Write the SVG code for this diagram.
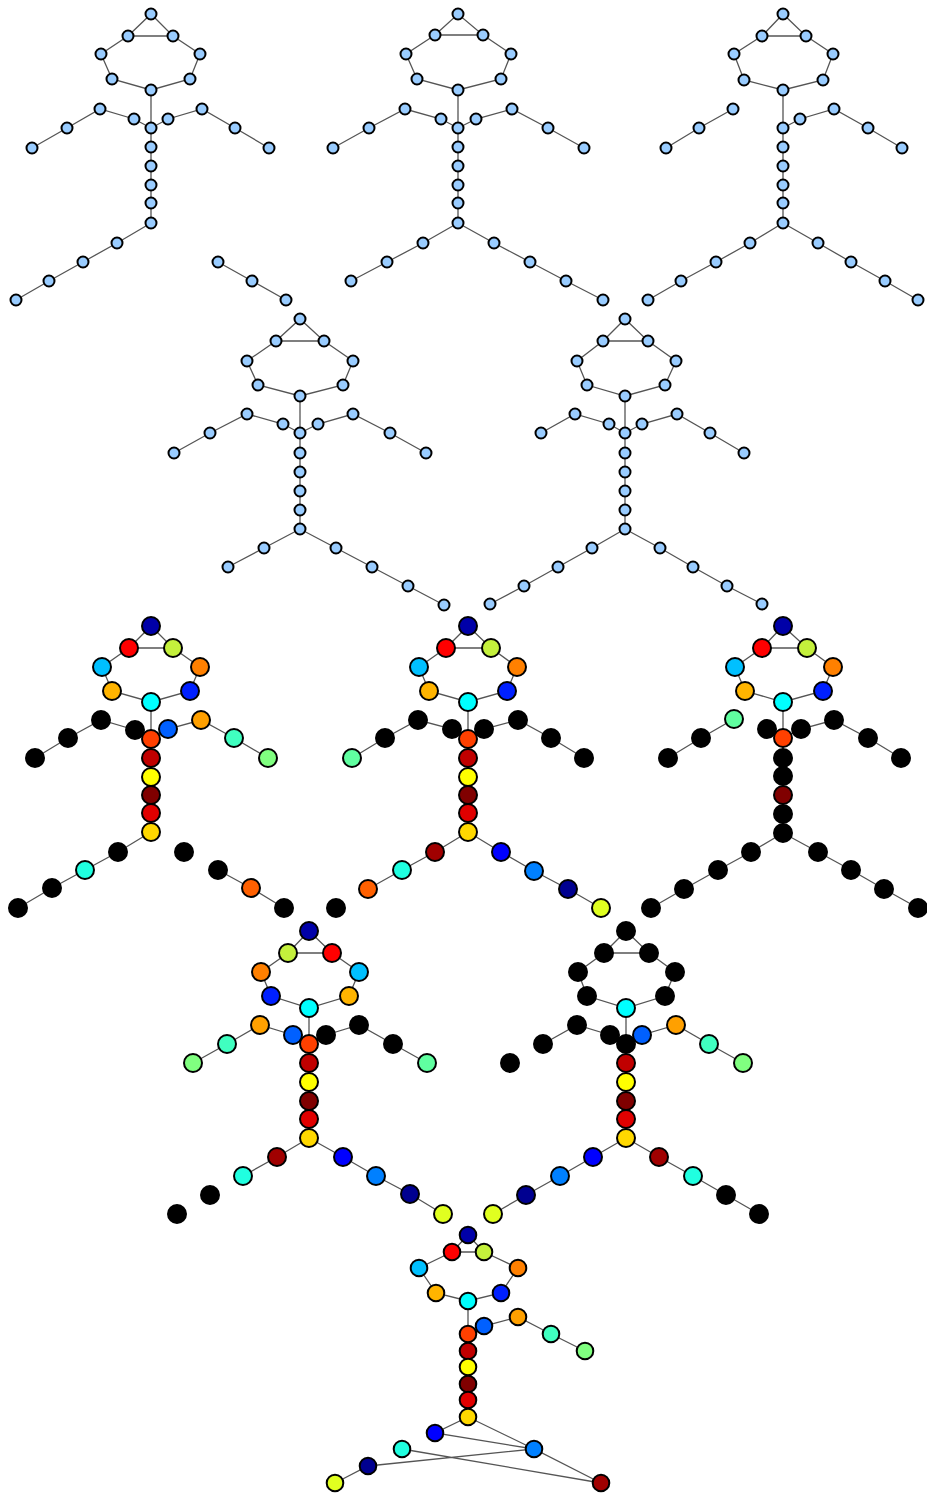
<svg xmlns="http://www.w3.org/2000/svg" width="927" height="1493" viewBox="0 0 927 1493">
<style>
.e{fill:none;stroke:#555;stroke-width:1.3}
circle{stroke:#000;stroke-width:2}
.bl{fill:#99ccff}.k{fill:#000}.nv{fill:#0000a8}.rd{fill:#ff0000}.yg{fill:#c4f03c}.ds{fill:#00c0ff}.or{fill:#ff8000}.gr{fill:#ffb400}.b2{fill:#0020ff}.cy{fill:#00ffff}.og{fill:#ff4000}.db{fill:#0060ff}.o2{fill:#ffa000}.aq{fill:#40ffc0}.lg{fill:#80ff80}.dr{fill:#c00000}.ye{fill:#ffff00}.mr{fill:#800000}.r2{fill:#e00000}.gd{fill:#ffd800}.tq{fill:#20ffe0}.o3{fill:#ff6000}.ma{fill:#60ffa0}.m2{fill:#a00000}.bu{fill:#0000ff}.d2{fill:#0080ff}.n2{fill:#000090}.y2{fill:#e0ff20}
</style>
<rect width="927" height="1493" fill="#fff"/>
<g id="connectors">
<path class="e" d="M128,36L151,14L173,36L128,36M128,36L101,54L112,79L151,90L190,79L200,54L173,36M151,90L151,128M151,128L134,119L100,109L67,128L32,148M151,128L168,119L202,109L235,128L269,148M151,128L151,223M151,223L117,243L83,262L49,281L16,300M218,262L252,281L286,300"/>
<path class="e" d="M435,35L458,14L483,35L435,35M435,35L406,54L417,79L458,90L501,79L511,54L483,35M458,90L458,128M458,128L441,119L405,109L369,128L333,148M458,128L476,119L512,109L548,128L584,148M458,128L458,223M458,223L423,243L387,262L351,281M458,223L494,243L530,262L566,281L603,300"/>
<path class="e" d="M762,36L783,14L806,36L762,36M762,36L734,54L744,80L783,90L823,80L833,54L806,36M783,90L783,128M733,109L699,128L666,148M783,128L800,119L834,109L868,128L902,148M783,128L783,223M783,223L750,243L716,262L681,281L648,300M783,223L818,243L851,262L885,281L918,300"/>
<path class="e" d="M276,341L300,319L324,341L276,341M276,341L247,361L258,385L300,396L343,385L353,361L324,341M300,396L300,433M300,433L283,424L247,414L210,433L174,453M300,433L318,424L353,414L390,433L426,453M300,433L300,529M300,529L264,548L228,567M300,529L336,548L372,567L408,586L444,605"/>
<path class="e" d="M603,341L625,319L648,341L603,341M603,341L577,361L587,385L625,396L665,385L676,361L648,341M625,396L625,433M625,433L609,424L575,414L541,433M625,433L642,424L677,414L710,433L744,453M625,433L625,529M625,529L592,548L558,567L524,586L490,604M625,529L660,548L693,567L727,586L762,604"/>
<path class="e" d="M129,648L151,626L173,648L129,648M129,648L102,667L112,691L151,702L190,691L200,667L173,648M151,702L151,739M151,739L135,730L101,720L68,738L35,758M151,739L168,729L201,720L234,738L268,758M151,739L151,832M151,832L118,852L85,870L52,888L18,908M218,870L251,888L284,908"/>
<path class="e" d="M446,648L468,626L491,648L446,648M446,648L419,667L429,691L468,702L507,691L517,667L491,648M468,702L468,739M468,739L452,729L418,720L385,738L352,758M468,739L484,729L518,720L551,738L584,758M468,739L468,832M468,832L435,852L402,870L368,889M468,832L501,852L534,871L568,889L601,908"/>
<path class="e" d="M762,648L783,626L807,648L762,648M762,648L735,667L745,691L783,702L823,691L833,667L807,648M783,702L783,738M783,738L767,729M734,719L701,738L668,758M783,738L801,729L834,720L868,738L901,758M783,738L783,833M783,833L751,852L718,870L684,889L651,908M783,833L818,852L851,870L884,889L918,908"/>
<path class="e" d="M288,953L309,931L332,953L288,953M288,953L261,972L271,996L309,1008L349,996L359,972L332,953M309,1008L309,1044M309,1044L293,1035L260,1025L227,1044L193,1063M309,1044L326,1035L359,1025L393,1044L427,1063M309,1044L309,1138M309,1138L277,1157L243,1176M309,1138L343,1157L376,1176L410,1194L443,1214"/>
<path class="e" d="M604,953L626,931L649,953L604,953M604,953L578,972L587,996L626,1008L665,996L675,972L649,953M626,1008L626,1044M626,1044L610,1035L577,1025L543,1044M626,1044L642,1035L676,1025L709,1044L743,1063M626,1044L626,1138M626,1138L593,1157L560,1176L526,1195L493,1214M626,1138L659,1157L693,1176L726,1195L759,1214"/>
<path class="e" d="M452,1252L468,1235L484,1252L452,1252M452,1252L419,1268L436,1293L468,1301L501,1293L518,1268L484,1252M468,1301L468,1334M468,1334L484,1326L518,1317L551,1334L585,1351M468,1334L468,1417M468,1417L435,1433L534,1449L601,1483L402,1449M468,1417L534,1449M534,1449L368,1466L335,1483"/>
</g>
<g id="fig1">
<g id="f1n1"><circle class="bl" cx="151" cy="14" r="5.5"/></g>
<g id="f1n2"><circle class="bl" cx="128" cy="36" r="5.5"/></g>
<g id="f1n3"><circle class="bl" cx="173" cy="36" r="5.5"/></g>
<g id="f1n4"><circle class="bl" cx="101" cy="54" r="5.5"/></g>
<g id="f1n5"><circle class="bl" cx="200" cy="54" r="5.5"/></g>
<g id="f1n6"><circle class="bl" cx="112" cy="79" r="5.5"/></g>
<g id="f1n7"><circle class="bl" cx="190" cy="79" r="5.5"/></g>
<g id="f1n8"><circle class="bl" cx="151" cy="90" r="5.5"/></g>
<g id="f1n9"><circle class="bl" cx="134" cy="119" r="5.5"/></g>
<g id="f1n10"><circle class="bl" cx="168" cy="119" r="5.5"/></g>
<g id="f1n11"><circle class="bl" cx="100" cy="109" r="5.5"/></g>
<g id="f1n12"><circle class="bl" cx="67" cy="128" r="5.5"/></g>
<g id="f1n13"><circle class="bl" cx="32" cy="148" r="5.5"/></g>
<g id="f1n14"><circle class="bl" cx="202" cy="109" r="5.5"/></g>
<g id="f1n15"><circle class="bl" cx="235" cy="128" r="5.5"/></g>
<g id="f1n16"><circle class="bl" cx="269" cy="148" r="5.5"/></g>
<g id="f1n17"><circle class="bl" cx="151" cy="128" r="5.5"/></g>
<g id="f1n18"><circle class="bl" cx="151" cy="147" r="5.5"/></g>
<g id="f1n19"><circle class="bl" cx="151" cy="166" r="5.5"/></g>
<g id="f1n20"><circle class="bl" cx="151" cy="185" r="5.5"/></g>
<g id="f1n21"><circle class="bl" cx="151" cy="203" r="5.5"/></g>
<g id="f1n22"><circle class="bl" cx="151" cy="223" r="5.5"/></g>
<g id="f1n23"><circle class="bl" cx="117" cy="243" r="5.5"/></g>
<g id="f1n24"><circle class="bl" cx="83" cy="262" r="5.5"/></g>
<g id="f1n25"><circle class="bl" cx="49" cy="281" r="5.5"/></g>
<g id="f1n26"><circle class="bl" cx="16" cy="300" r="5.5"/></g>
<g id="f1n27"><circle class="bl" cx="218" cy="262" r="5.5"/></g>
<g id="f1n28"><circle class="bl" cx="252" cy="281" r="5.5"/></g>
<g id="f1n29"><circle class="bl" cx="286" cy="300" r="5.5"/></g>
</g>
<g id="fig2">
<g id="f2n1"><circle class="bl" cx="458" cy="14" r="5.5"/></g>
<g id="f2n2"><circle class="bl" cx="435" cy="35" r="5.5"/></g>
<g id="f2n3"><circle class="bl" cx="483" cy="35" r="5.5"/></g>
<g id="f2n4"><circle class="bl" cx="406" cy="54" r="5.5"/></g>
<g id="f2n5"><circle class="bl" cx="511" cy="54" r="5.5"/></g>
<g id="f2n6"><circle class="bl" cx="417" cy="79" r="5.5"/></g>
<g id="f2n7"><circle class="bl" cx="501" cy="79" r="5.5"/></g>
<g id="f2n8"><circle class="bl" cx="458" cy="90" r="5.5"/></g>
<g id="f2n9"><circle class="bl" cx="441" cy="119" r="5.5"/></g>
<g id="f2n10"><circle class="bl" cx="476" cy="119" r="5.5"/></g>
<g id="f2n11"><circle class="bl" cx="405" cy="109" r="5.5"/></g>
<g id="f2n12"><circle class="bl" cx="369" cy="128" r="5.5"/></g>
<g id="f2n13"><circle class="bl" cx="333" cy="148" r="5.5"/></g>
<g id="f2n14"><circle class="bl" cx="512" cy="109" r="5.5"/></g>
<g id="f2n15"><circle class="bl" cx="548" cy="128" r="5.5"/></g>
<g id="f2n16"><circle class="bl" cx="584" cy="148" r="5.5"/></g>
<g id="f2n17"><circle class="bl" cx="458" cy="128" r="5.5"/></g>
<g id="f2n18"><circle class="bl" cx="458" cy="147" r="5.5"/></g>
<g id="f2n19"><circle class="bl" cx="458" cy="166" r="5.5"/></g>
<g id="f2n20"><circle class="bl" cx="458" cy="185" r="5.5"/></g>
<g id="f2n21"><circle class="bl" cx="458" cy="203" r="5.5"/></g>
<g id="f2n22"><circle class="bl" cx="458" cy="223" r="5.5"/></g>
<g id="f2n23"><circle class="bl" cx="423" cy="243" r="5.5"/></g>
<g id="f2n24"><circle class="bl" cx="387" cy="262" r="5.5"/></g>
<g id="f2n25"><circle class="bl" cx="351" cy="281" r="5.5"/></g>
<g id="f2n26"><circle class="bl" cx="494" cy="243" r="5.5"/></g>
<g id="f2n27"><circle class="bl" cx="530" cy="262" r="5.5"/></g>
<g id="f2n28"><circle class="bl" cx="566" cy="281" r="5.5"/></g>
<g id="f2n29"><circle class="bl" cx="603" cy="300" r="5.5"/></g>
</g>
<g id="fig3">
<g id="f3n1"><circle class="bl" cx="783" cy="14" r="5.5"/></g>
<g id="f3n2"><circle class="bl" cx="762" cy="36" r="5.5"/></g>
<g id="f3n3"><circle class="bl" cx="806" cy="36" r="5.5"/></g>
<g id="f3n4"><circle class="bl" cx="734" cy="54" r="5.5"/></g>
<g id="f3n5"><circle class="bl" cx="833" cy="54" r="5.5"/></g>
<g id="f3n6"><circle class="bl" cx="744" cy="80" r="5.5"/></g>
<g id="f3n7"><circle class="bl" cx="823" cy="80" r="5.5"/></g>
<g id="f3n8"><circle class="bl" cx="783" cy="90" r="5.5"/></g>
<g id="f3n9"><circle class="bl" cx="800" cy="119" r="5.5"/></g>
<g id="f3n10"><circle class="bl" cx="733" cy="109" r="5.5"/></g>
<g id="f3n11"><circle class="bl" cx="699" cy="128" r="5.5"/></g>
<g id="f3n12"><circle class="bl" cx="666" cy="148" r="5.5"/></g>
<g id="f3n13"><circle class="bl" cx="834" cy="109" r="5.5"/></g>
<g id="f3n14"><circle class="bl" cx="868" cy="128" r="5.5"/></g>
<g id="f3n15"><circle class="bl" cx="902" cy="148" r="5.5"/></g>
<g id="f3n16"><circle class="bl" cx="783" cy="128" r="5.5"/></g>
<g id="f3n17"><circle class="bl" cx="783" cy="147" r="5.5"/></g>
<g id="f3n18"><circle class="bl" cx="783" cy="166" r="5.5"/></g>
<g id="f3n19"><circle class="bl" cx="783" cy="185" r="5.5"/></g>
<g id="f3n20"><circle class="bl" cx="783" cy="203" r="5.5"/></g>
<g id="f3n21"><circle class="bl" cx="783" cy="223" r="5.5"/></g>
<g id="f3n22"><circle class="bl" cx="750" cy="243" r="5.5"/></g>
<g id="f3n23"><circle class="bl" cx="716" cy="262" r="5.5"/></g>
<g id="f3n24"><circle class="bl" cx="681" cy="281" r="5.5"/></g>
<g id="f3n25"><circle class="bl" cx="648" cy="300" r="5.5"/></g>
<g id="f3n26"><circle class="bl" cx="818" cy="243" r="5.5"/></g>
<g id="f3n27"><circle class="bl" cx="851" cy="262" r="5.5"/></g>
<g id="f3n28"><circle class="bl" cx="885" cy="281" r="5.5"/></g>
<g id="f3n29"><circle class="bl" cx="918" cy="300" r="5.5"/></g>
</g>
<g id="fig4">
<g id="f4n1"><circle class="bl" cx="300" cy="319" r="5.5"/></g>
<g id="f4n2"><circle class="bl" cx="276" cy="341" r="5.5"/></g>
<g id="f4n3"><circle class="bl" cx="324" cy="341" r="5.5"/></g>
<g id="f4n4"><circle class="bl" cx="247" cy="361" r="5.5"/></g>
<g id="f4n5"><circle class="bl" cx="353" cy="361" r="5.5"/></g>
<g id="f4n6"><circle class="bl" cx="258" cy="385" r="5.5"/></g>
<g id="f4n7"><circle class="bl" cx="343" cy="385" r="5.5"/></g>
<g id="f4n8"><circle class="bl" cx="300" cy="396" r="5.5"/></g>
<g id="f4n9"><circle class="bl" cx="283" cy="424" r="5.5"/></g>
<g id="f4n10"><circle class="bl" cx="318" cy="424" r="5.5"/></g>
<g id="f4n11"><circle class="bl" cx="247" cy="414" r="5.5"/></g>
<g id="f4n12"><circle class="bl" cx="210" cy="433" r="5.5"/></g>
<g id="f4n13"><circle class="bl" cx="174" cy="453" r="5.5"/></g>
<g id="f4n14"><circle class="bl" cx="353" cy="414" r="5.5"/></g>
<g id="f4n15"><circle class="bl" cx="390" cy="433" r="5.5"/></g>
<g id="f4n16"><circle class="bl" cx="426" cy="453" r="5.5"/></g>
<g id="f4n17"><circle class="bl" cx="300" cy="433" r="5.5"/></g>
<g id="f4n18"><circle class="bl" cx="300" cy="453" r="5.5"/></g>
<g id="f4n19"><circle class="bl" cx="300" cy="472" r="5.5"/></g>
<g id="f4n20"><circle class="bl" cx="300" cy="491" r="5.5"/></g>
<g id="f4n21"><circle class="bl" cx="300" cy="510" r="5.5"/></g>
<g id="f4n22"><circle class="bl" cx="300" cy="529" r="5.5"/></g>
<g id="f4n23"><circle class="bl" cx="264" cy="548" r="5.5"/></g>
<g id="f4n24"><circle class="bl" cx="228" cy="567" r="5.5"/></g>
<g id="f4n25"><circle class="bl" cx="336" cy="548" r="5.5"/></g>
<g id="f4n26"><circle class="bl" cx="372" cy="567" r="5.5"/></g>
<g id="f4n27"><circle class="bl" cx="408" cy="586" r="5.5"/></g>
<g id="f4n28"><circle class="bl" cx="444" cy="605" r="5.5"/></g>
</g>
<g id="fig5">
<g id="f5n1"><circle class="bl" cx="625" cy="319" r="5.5"/></g>
<g id="f5n2"><circle class="bl" cx="603" cy="341" r="5.5"/></g>
<g id="f5n3"><circle class="bl" cx="648" cy="341" r="5.5"/></g>
<g id="f5n4"><circle class="bl" cx="577" cy="361" r="5.5"/></g>
<g id="f5n5"><circle class="bl" cx="676" cy="361" r="5.5"/></g>
<g id="f5n6"><circle class="bl" cx="587" cy="385" r="5.5"/></g>
<g id="f5n7"><circle class="bl" cx="665" cy="385" r="5.5"/></g>
<g id="f5n8"><circle class="bl" cx="625" cy="396" r="5.5"/></g>
<g id="f5n9"><circle class="bl" cx="609" cy="424" r="5.5"/></g>
<g id="f5n10"><circle class="bl" cx="642" cy="424" r="5.5"/></g>
<g id="f5n11"><circle class="bl" cx="575" cy="414" r="5.5"/></g>
<g id="f5n12"><circle class="bl" cx="541" cy="433" r="5.5"/></g>
<g id="f5n13"><circle class="bl" cx="677" cy="414" r="5.5"/></g>
<g id="f5n14"><circle class="bl" cx="710" cy="433" r="5.5"/></g>
<g id="f5n15"><circle class="bl" cx="744" cy="453" r="5.5"/></g>
<g id="f5n16"><circle class="bl" cx="625" cy="433" r="5.5"/></g>
<g id="f5n17"><circle class="bl" cx="625" cy="453" r="5.5"/></g>
<g id="f5n18"><circle class="bl" cx="625" cy="472" r="5.5"/></g>
<g id="f5n19"><circle class="bl" cx="625" cy="491" r="5.5"/></g>
<g id="f5n20"><circle class="bl" cx="625" cy="510" r="5.5"/></g>
<g id="f5n21"><circle class="bl" cx="625" cy="529" r="5.5"/></g>
<g id="f5n22"><circle class="bl" cx="592" cy="548" r="5.5"/></g>
<g id="f5n23"><circle class="bl" cx="558" cy="567" r="5.5"/></g>
<g id="f5n24"><circle class="bl" cx="524" cy="586" r="5.5"/></g>
<g id="f5n25"><circle class="bl" cx="490" cy="604" r="5.5"/></g>
<g id="f5n26"><circle class="bl" cx="660" cy="548" r="5.5"/></g>
<g id="f5n27"><circle class="bl" cx="693" cy="567" r="5.5"/></g>
<g id="f5n28"><circle class="bl" cx="727" cy="586" r="5.5"/></g>
<g id="f5n29"><circle class="bl" cx="762" cy="604" r="5.5"/></g>
</g>
<g id="fig6">
<g id="f6n1"><circle class="nv" cx="151" cy="626" r="9"/></g>
<g id="f6n2"><circle class="rd" cx="129" cy="648" r="9"/></g>
<g id="f6n3"><circle class="yg" cx="173" cy="648" r="9"/></g>
<g id="f6n4"><circle class="ds" cx="102" cy="667" r="9"/></g>
<g id="f6n5"><circle class="or" cx="200" cy="667" r="9"/></g>
<g id="f6n6"><circle class="gr" cx="112" cy="691" r="9"/></g>
<g id="f6n7"><circle class="b2" cx="190" cy="691" r="9"/></g>
<g id="f6n8"><circle class="cy" cx="151" cy="702" r="9"/></g>
<g id="f6n9"><circle class="k" cx="135" cy="730" r="9"/></g>
<g id="f6n10"><circle class="k" cx="101" cy="720" r="9"/></g>
<g id="f6n11"><circle class="k" cx="68" cy="738" r="9"/></g>
<g id="f6n12"><circle class="k" cx="35" cy="758" r="9"/></g>
<g id="f6n13"><circle class="o2" cx="201" cy="720" r="9"/></g>
<g id="f6n14"><circle class="aq" cx="234" cy="738" r="9"/></g>
<g id="f6n15"><circle class="lg" cx="268" cy="758" r="9"/></g>
<g id="f6n16"><circle class="og" cx="151" cy="739" r="9"/></g>
<g id="f6n17"><circle class="db" cx="168" cy="729" r="9"/></g>
<g id="f6n18"><circle class="dr" cx="151" cy="758" r="9"/></g>
<g id="f6n19"><circle class="ye" cx="151" cy="777" r="9"/></g>
<g id="f6n20"><circle class="mr" cx="151" cy="795" r="9"/></g>
<g id="f6n21"><circle class="r2" cx="151" cy="813" r="9"/></g>
<g id="f6n22"><circle class="gd" cx="151" cy="832" r="9"/></g>
<g id="f6n23"><circle class="k" cx="118" cy="852" r="9"/></g>
<g id="f6n24"><circle class="tq" cx="85" cy="870" r="9"/></g>
<g id="f6n25"><circle class="k" cx="52" cy="888" r="9"/></g>
<g id="f6n26"><circle class="k" cx="18" cy="908" r="9"/></g>
<g id="f6n27"><circle class="k" cx="184" cy="852" r="9"/></g>
<g id="f6n28"><circle class="k" cx="218" cy="870" r="9"/></g>
<g id="f6n29"><circle class="o3" cx="251" cy="888" r="9"/></g>
<g id="f6n30"><circle class="k" cx="284" cy="908" r="9"/></g>
</g>
<g id="fig7">
<g id="f7n1"><circle class="nv" cx="468" cy="626" r="9"/></g>
<g id="f7n2"><circle class="rd" cx="446" cy="648" r="9"/></g>
<g id="f7n3"><circle class="yg" cx="491" cy="648" r="9"/></g>
<g id="f7n4"><circle class="ds" cx="419" cy="667" r="9"/></g>
<g id="f7n5"><circle class="or" cx="517" cy="667" r="9"/></g>
<g id="f7n6"><circle class="gr" cx="429" cy="691" r="9"/></g>
<g id="f7n7"><circle class="b2" cx="507" cy="691" r="9"/></g>
<g id="f7n8"><circle class="cy" cx="468" cy="702" r="9"/></g>
<g id="f7n9"><circle class="k" cx="452" cy="729" r="9"/></g>
<g id="f7n10"><circle class="k" cx="484" cy="729" r="9"/></g>
<g id="f7n11"><circle class="k" cx="418" cy="720" r="9"/></g>
<g id="f7n12"><circle class="k" cx="385" cy="738" r="9"/></g>
<g id="f7n13"><circle class="ma" cx="352" cy="758" r="9"/></g>
<g id="f7n14"><circle class="k" cx="518" cy="720" r="9"/></g>
<g id="f7n15"><circle class="k" cx="551" cy="738" r="9"/></g>
<g id="f7n16"><circle class="k" cx="584" cy="758" r="9"/></g>
<g id="f7n17"><circle class="og" cx="468" cy="739" r="9"/></g>
<g id="f7n18"><circle class="dr" cx="468" cy="758" r="9"/></g>
<g id="f7n19"><circle class="ye" cx="468" cy="777" r="9"/></g>
<g id="f7n20"><circle class="mr" cx="468" cy="795" r="9"/></g>
<g id="f7n21"><circle class="r2" cx="468" cy="813" r="9"/></g>
<g id="f7n22"><circle class="gd" cx="468" cy="832" r="9"/></g>
<g id="f7n23"><circle class="m2" cx="435" cy="852" r="9"/></g>
<g id="f7n24"><circle class="tq" cx="402" cy="870" r="9"/></g>
<g id="f7n25"><circle class="o3" cx="368" cy="889" r="9"/></g>
<g id="f7n26"><circle class="k" cx="336" cy="908" r="9"/></g>
<g id="f7n27"><circle class="bu" cx="501" cy="852" r="9"/></g>
<g id="f7n28"><circle class="d2" cx="534" cy="871" r="9"/></g>
<g id="f7n29"><circle class="n2" cx="568" cy="889" r="9"/></g>
<g id="f7n30"><circle class="y2" cx="601" cy="908" r="9"/></g>
</g>
<g id="fig8">
<g id="f8n1"><circle class="nv" cx="783" cy="626" r="9"/></g>
<g id="f8n2"><circle class="rd" cx="762" cy="648" r="9"/></g>
<g id="f8n3"><circle class="yg" cx="807" cy="648" r="9"/></g>
<g id="f8n4"><circle class="ds" cx="735" cy="667" r="9"/></g>
<g id="f8n5"><circle class="or" cx="833" cy="667" r="9"/></g>
<g id="f8n6"><circle class="gr" cx="745" cy="691" r="9"/></g>
<g id="f8n7"><circle class="b2" cx="823" cy="691" r="9"/></g>
<g id="f8n8"><circle class="cy" cx="783" cy="702" r="9"/></g>
<g id="f8n9"><circle class="k" cx="767" cy="729" r="9"/></g>
<g id="f8n10"><circle class="k" cx="801" cy="729" r="9"/></g>
<g id="f8n11"><circle class="ma" cx="734" cy="719" r="9"/></g>
<g id="f8n12"><circle class="k" cx="701" cy="738" r="9"/></g>
<g id="f8n13"><circle class="k" cx="668" cy="758" r="9"/></g>
<g id="f8n14"><circle class="k" cx="834" cy="720" r="9"/></g>
<g id="f8n15"><circle class="k" cx="868" cy="738" r="9"/></g>
<g id="f8n16"><circle class="k" cx="901" cy="758" r="9"/></g>
<g id="f8n17"><circle class="og" cx="783" cy="738" r="9"/></g>
<g id="f8n18"><circle class="k" cx="783" cy="758" r="9"/></g>
<g id="f8n19"><circle class="k" cx="783" cy="776" r="9"/></g>
<g id="f8n20"><circle class="mr" cx="783" cy="795" r="9"/></g>
<g id="f8n21"><circle class="k" cx="783" cy="814" r="9"/></g>
<g id="f8n22"><circle class="k" cx="783" cy="833" r="9"/></g>
<g id="f8n23"><circle class="k" cx="751" cy="852" r="9"/></g>
<g id="f8n24"><circle class="k" cx="718" cy="870" r="9"/></g>
<g id="f8n25"><circle class="k" cx="684" cy="889" r="9"/></g>
<g id="f8n26"><circle class="k" cx="651" cy="908" r="9"/></g>
<g id="f8n27"><circle class="k" cx="818" cy="852" r="9"/></g>
<g id="f8n28"><circle class="k" cx="851" cy="870" r="9"/></g>
<g id="f8n29"><circle class="k" cx="884" cy="889" r="9"/></g>
<g id="f8n30"><circle class="k" cx="918" cy="908" r="9"/></g>
</g>
<g id="fig9">
<g id="f9n1"><circle class="nv" cx="309" cy="931" r="9"/></g>
<g id="f9n2"><circle class="yg" cx="288" cy="953" r="9"/></g>
<g id="f9n3"><circle class="rd" cx="332" cy="953" r="9"/></g>
<g id="f9n4"><circle class="or" cx="261" cy="972" r="9"/></g>
<g id="f9n5"><circle class="ds" cx="359" cy="972" r="9"/></g>
<g id="f9n6"><circle class="b2" cx="271" cy="996" r="9"/></g>
<g id="f9n7"><circle class="gr" cx="349" cy="996" r="9"/></g>
<g id="f9n8"><circle class="cy" cx="309" cy="1008" r="9"/></g>
<g id="f9n9"><circle class="o2" cx="260" cy="1025" r="9"/></g>
<g id="f9n10"><circle class="aq" cx="227" cy="1044" r="9"/></g>
<g id="f9n11"><circle class="lg" cx="193" cy="1063" r="9"/></g>
<g id="f9n12"><circle class="k" cx="359" cy="1025" r="9"/></g>
<g id="f9n13"><circle class="k" cx="393" cy="1044" r="9"/></g>
<g id="f9n14"><circle class="ma" cx="427" cy="1063" r="9"/></g>
<g id="f9n15"><circle class="k" cx="326" cy="1035" r="9"/></g>
<g id="f9n16"><circle class="db" cx="293" cy="1035" r="9"/></g>
<g id="f9n17"><circle class="og" cx="309" cy="1044" r="9"/></g>
<g id="f9n18"><circle class="dr" cx="309" cy="1063" r="9"/></g>
<g id="f9n19"><circle class="ye" cx="309" cy="1082" r="9"/></g>
<g id="f9n20"><circle class="mr" cx="309" cy="1101" r="9"/></g>
<g id="f9n21"><circle class="r2" cx="309" cy="1119" r="9"/></g>
<g id="f9n22"><circle class="gd" cx="309" cy="1138" r="9"/></g>
<g id="f9n23"><circle class="m2" cx="277" cy="1157" r="9"/></g>
<g id="f9n24"><circle class="tq" cx="243" cy="1176" r="9"/></g>
<g id="f9n25"><circle class="k" cx="210" cy="1195" r="9"/></g>
<g id="f9n26"><circle class="k" cx="177" cy="1214" r="9"/></g>
<g id="f9n27"><circle class="bu" cx="343" cy="1157" r="9"/></g>
<g id="f9n28"><circle class="d2" cx="376" cy="1176" r="9"/></g>
<g id="f9n29"><circle class="n2" cx="410" cy="1194" r="9"/></g>
<g id="f9n30"><circle class="y2" cx="443" cy="1214" r="9"/></g>
</g>
<g id="fig10">
<g id="f10n1"><circle class="k" cx="626" cy="931" r="9"/></g>
<g id="f10n2"><circle class="k" cx="604" cy="953" r="9"/></g>
<g id="f10n3"><circle class="k" cx="649" cy="953" r="9"/></g>
<g id="f10n4"><circle class="k" cx="578" cy="972" r="9"/></g>
<g id="f10n5"><circle class="k" cx="675" cy="972" r="9"/></g>
<g id="f10n6"><circle class="k" cx="587" cy="996" r="9"/></g>
<g id="f10n7"><circle class="k" cx="665" cy="996" r="9"/></g>
<g id="f10n8"><circle class="cy" cx="626" cy="1008" r="9"/></g>
<g id="f10n9"><circle class="k" cx="577" cy="1025" r="9"/></g>
<g id="f10n10"><circle class="k" cx="543" cy="1044" r="9"/></g>
<g id="f10n11"><circle class="k" cx="510" cy="1063" r="9"/></g>
<g id="f10n12"><circle class="o2" cx="676" cy="1025" r="9"/></g>
<g id="f10n13"><circle class="aq" cx="709" cy="1044" r="9"/></g>
<g id="f10n14"><circle class="lg" cx="743" cy="1063" r="9"/></g>
<g id="f10n15"><circle class="k" cx="610" cy="1035" r="9"/></g>
<g id="f10n16"><circle class="k" cx="626" cy="1044" r="9"/></g>
<g id="f10n17"><circle class="db" cx="642" cy="1035" r="9"/></g>
<g id="f10n18"><circle class="dr" cx="626" cy="1063" r="9"/></g>
<g id="f10n19"><circle class="ye" cx="626" cy="1082" r="9"/></g>
<g id="f10n20"><circle class="mr" cx="626" cy="1101" r="9"/></g>
<g id="f10n21"><circle class="r2" cx="626" cy="1119" r="9"/></g>
<g id="f10n22"><circle class="gd" cx="626" cy="1138" r="9"/></g>
<g id="f10n23"><circle class="bu" cx="593" cy="1157" r="9"/></g>
<g id="f10n24"><circle class="d2" cx="560" cy="1176" r="9"/></g>
<g id="f10n25"><circle class="n2" cx="526" cy="1195" r="9"/></g>
<g id="f10n26"><circle class="y2" cx="493" cy="1214" r="9"/></g>
<g id="f10n27"><circle class="m2" cx="659" cy="1157" r="9"/></g>
<g id="f10n28"><circle class="tq" cx="693" cy="1176" r="9"/></g>
<g id="f10n29"><circle class="k" cx="726" cy="1195" r="9"/></g>
<g id="f10n30"><circle class="k" cx="759" cy="1214" r="9"/></g>
</g>
<g id="fig11">
<g id="f11n1"><circle class="nv" cx="468" cy="1235" r="8.3"/></g>
<g id="f11n2"><circle class="rd" cx="452" cy="1252" r="8.3"/></g>
<g id="f11n3"><circle class="yg" cx="484" cy="1252" r="8.3"/></g>
<g id="f11n4"><circle class="ds" cx="419" cy="1268" r="8.3"/></g>
<g id="f11n5"><circle class="or" cx="518" cy="1268" r="8.3"/></g>
<g id="f11n6"><circle class="gr" cx="436" cy="1293" r="8.3"/></g>
<g id="f11n7"><circle class="b2" cx="501" cy="1293" r="8.3"/></g>
<g id="f11n8"><circle class="cy" cx="468" cy="1301" r="8.3"/></g>
<g id="f11n9"><circle class="o2" cx="518" cy="1317" r="8.3"/></g>
<g id="f11n10"><circle class="aq" cx="551" cy="1334" r="8.3"/></g>
<g id="f11n11"><circle class="lg" cx="585" cy="1351" r="8.3"/></g>
<g id="f11n12"><circle class="og" cx="468" cy="1334" r="8.3"/></g>
<g id="f11n13"><circle class="db" cx="484" cy="1326" r="8.3"/></g>
<g id="f11n14"><circle class="dr" cx="468" cy="1351" r="8.3"/></g>
<g id="f11n15"><circle class="ye" cx="468" cy="1367" r="8.3"/></g>
<g id="f11n16"><circle class="mr" cx="468" cy="1384" r="8.3"/></g>
<g id="f11n17"><circle class="r2" cx="468" cy="1400" r="8.3"/></g>
<g id="f11n18"><circle class="gd" cx="468" cy="1417" r="8.3"/></g>
<g id="f11n19"><circle class="bu" cx="435" cy="1433" r="8.3"/></g>
<g id="f11n20"><circle class="d2" cx="534" cy="1449" r="8.3"/></g>
<g id="f11n21"><circle class="tq" cx="402" cy="1449" r="8.3"/></g>
<g id="f11n22"><circle class="n2" cx="368" cy="1466" r="8.3"/></g>
<g id="f11n23"><circle class="y2" cx="335" cy="1483" r="8.3"/></g>
<g id="f11n24"><circle class="m2" cx="601" cy="1483" r="8.3"/></g>
</g>
</svg>
